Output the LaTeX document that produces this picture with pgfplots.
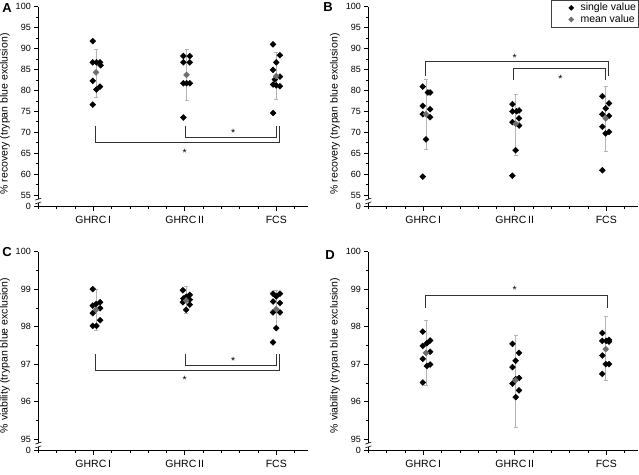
\documentclass[border=0pt]{standalone}
\usepackage{pgfplots}
\pgfplotsset{compat=1.18}
\usepackage{fontspec}
\setmainfont{Liberation Sans}
\definecolor{meangray}{HTML}{6E6E6E}
\definecolor{errgray}{HTML}{B5B5B5}
\definecolor{brk}{HTML}{333333}
\pgfplotsset{
  panel/.style={
    scale only axis, width=270pt,
    xmin=0.4, xmax=3.35,
    axis x line*=bottom, axis y line*=left,
    axis line style={black, line width=0.6pt},
    xtick={1,2,3}, xticklabels={GHRC\,I,GHRC\,II,FCS},
    minor xtick={0.4,0.6,0.8,1.2,1.4,1.6,1.8,2.2,2.4,2.6,2.8,3.2},
    tick align=outside, tick style={black, line width=0.6pt},
    major tick length=4pt, minor tick length=2.5pt,
    /pgf/number format/assume math mode=true,
    yticklabel style={font=\fontsize{9}{10}\selectfont},
    xticklabel style={font=\fontsize{10.5}{12}\selectfont, yshift=-2pt},
    clip=false,
  },
  ylab/.style={every axis y label/.style={at={(rel axis cs:0,#1)}, xshift=-33.3pt, rotate=90, anchor=center, font=\fontsize{10.5}{12}\selectfont}},
  recov/.style={height=200pt, ymin=52.2, ymax=100,
    ytick={52.2,55,60,65,70,75,80,85,90,95,100},
    yticklabels={0,55,60,65,70,75,80,85,90,95,100},
    minor ytick={57.5,62.5,67.5,72.5,77.5,82.5,87.5,92.5,97.5},
    ylabel={\% recovery (trypan blue exclusion)}, ylab=0.4635},
  viab/.style={height=199pt, ymin=94.69, ymax=100,
    ytick={94.69,95,96,97,98,99,100},
    yticklabels={0,95,96,97,98,99,100},
    minor ytick={95.5,96.5,97.5,98.5,99.5},
    ylabel={\% viability (trypan blue exclusion)}, ylab=0.478},
  single/.style={only marks, mark=square*, mark size=2.1pt, mark options={rotate=45, fill=black, draw=black}},
  mean/.style={only marks, mark=square*, mark size=2.1pt, mark options={rotate=45, fill=meangray, draw=meangray}},
  ebar/.style={forget plot, only marks, mark=none, errgray, error bars/.cd, y dir=both, y explicit, error bar style={errgray, line width=0.9pt}, error mark options={rotate=90, errgray, line width=0.9pt, mark size=2pt}},
  bracket/.style={forget plot, brk, line width=1pt, mark=none},
}
\newcommand{\ybreak}{%
  \draw[white, line width=2.5pt] ([yshift=3.8pt]rel axis cs:0,0) -- ([yshift=7.6pt]rel axis cs:0,0);
  \draw[black, line width=0.6pt] ([xshift=-3pt,yshift=2.8pt]rel axis cs:0,0) -- ([xshift=3pt,yshift=4.8pt]rel axis cs:0,0);
  \draw[black, line width=0.6pt] ([xshift=-3pt,yshift=6.6pt]rel axis cs:0,0) -- ([xshift=3pt,yshift=8.6pt]rel axis cs:0,0);
}
\newcommand{\sigstar}[2]{\node[font=\fontsize{10.5}{10}\selectfont, anchor=center, yshift=-2.3pt] at (axis cs:#1,#2) {*};}
\begin{document}
\begin{tikzpicture}
\useasboundingbox (0pt,0pt) rectangle (639pt,-474pt);
% ---------------- A
\begin{axis}[panel, recov, at={(38.3pt,-206.7pt)}, anchor=south west]
\addplot[ebar] coordinates {(1.03,84.3) += (0,5.5) -= (0,6.0) (2.02,83.7) += (0,6.1) -= (0,6.0) (3.0,83.4) += (0,5.6) -= (0,5.5)};
\addplot[single] coordinates {
 (0.995,91.8) (0.995,86.7) (1.035,86.7) (1.075,86.7) (1.08,86.0) (0.995,82.3) (1.035,80.2) (1.075,80.9) (0.995,76.6)
 (1.985,88.2) (2.055,88.2) (1.985,86.7) (2.055,86.7) (1.985,81.7) (2.02,81.7) (2.055,81.7) (1.985,73.5)
 (2.965,91.0) (3.04,88.4) (3.0,86.7) (2.965,84.9) (3.04,83.3) (2.985,82.6) (2.965,81.4) (3.04,81.0) (3.0,81.2) (2.965,74.6)};
\addplot[mean] coordinates {(1.03,84.3) (2.02,83.7) (3.0,83.4)};
\addplot[bracket] coordinates {(1.03,71.4) (1.03,67.5) (3.04,67.5) (3.04,71.4)};
\addplot[bracket] coordinates {(2.01,71.4) (2.01,68.7) (3.0,68.7) (3.0,71.4)};
\sigstar{2.53}{70.4}
\sigstar{2.0}{65.7}
\ybreak
\end{axis}
% ---------------- B
\begin{axis}[panel, recov, at={(368.3pt,-206.7pt)}, anchor=south west,
  legend style={at={(rel axis cs:1,1)}, anchor=north east, yshift=6.7pt, draw=black!75, line width=0.6pt,
    font=\fontsize{10.5}{11}\selectfont, inner xsep=0pt, inner ysep=1pt, row sep=-1.5pt, cells={anchor=west}},
  legend image code/.code={\path (0pt,0pt) (27pt,0pt); \draw[#1, mark size=1.7pt] plot coordinates {(20pt,0pt)};}]
\addplot[ebar] coordinates {(1.03,74.3) += (0,8.2) -= (0,8.5) (2.01,72.0) += (0,7.1) -= (0,7.5) (2.994,73.3) += (0,7.7) -= (0,7.8)};
\addplot[single] coordinates {
 (0.995,80.9) (1.05,79.5) (1.075,79.5) (0.995,76.3) (1.075,75.5) (0.995,74.3) (1.075,73.6) (1.03,68.3) (0.995,59.4)
 (1.975,76.7) (1.975,75.0) (2.047,75.2) (2.047,73.3) (1.975,72.4) (2.047,71.6) (2.01,65.7) (1.975,59.6) (2.02,75.0)
 (2.957,78.6) (3.03,76.9) (2.994,75.7) (2.957,74.3) (3.03,73.9) (2.957,71.3) (3.03,70.1) (2.994,69.7) (2.957,60.9)};
\addlegendentry{single value}
\addplot[mean] coordinates {(1.03,74.3) (2.01,72.0) (2.994,73.3)};
\addlegendentry{mean value}
\addplot[bracket] coordinates {(1.03,83.4) (1.03,86.8) (3.02,86.8) (3.02,83.4)};
\addplot[bracket] coordinates {(1.99,82.5) (1.99,85.3) (2.99,85.3) (2.99,82.5)};
\sigstar{2.0}{88.2}
\sigstar{2.5}{83.4}
\ybreak
\end{axis}
% ---------------- C
\begin{axis}[panel, viab, at={(38.3pt,-450.7pt)}, anchor=south west]
\addplot[ebar] coordinates {(1.03,98.45) += (0,0.54) -= (0,0.55) (2.015,98.7) += (0,0.36) -= (0,0.35) (3.0,98.47) += (0,0.5) -= (0,0.5)};
\addplot[single] coordinates {
 (0.995,99.0) (1.075,98.65) (0.995,98.56) (1.075,98.49) (0.995,98.36) (1.075,98.17) (0.995,98.02) (1.035,98.02) (1.03,98.6)
 (1.98,98.97) (2.055,98.85) (2.015,98.8) (2.055,98.72) (1.98,98.65) (2.055,98.59) (1.985,98.75) (2.015,98.45)
 (2.965,98.88) (3.04,98.88) (3.0,98.81) (2.965,98.67) (3.04,98.63) (2.965,98.38) (3.04,98.38) (3.0,97.96) (2.965,97.58)};
\addplot[mean] coordinates {(1.03,98.45) (2.015,98.7) (3.0,98.47)};
\addplot[bracket] coordinates {(1.03,97.27) (1.03,96.84) (3.04,96.84) (3.04,97.27)};
\addplot[bracket] coordinates {(2.01,97.27) (2.01,96.96) (3.0,96.96) (3.0,97.27)};
\sigstar{2.53}{97.15}
\sigstar{2.0}{96.65}
\ybreak
\end{axis}
% ---------------- D
\begin{axis}[panel, viab, at={(368.3pt,-450.7pt)}, anchor=south west]
\addplot[ebar] coordinates {(1.03,97.3) += (0,0.87) -= (0,0.87) (2.01,96.57) += (0,1.19) -= (0,1.25) (2.994,97.4) += (0,0.86) -= (0,0.83)};
\addplot[single] coordinates {
 (0.995,97.87) (1.075,97.63) (1.04,97.56) (0.995,97.49) (1.075,97.33) (0.995,97.14) (1.075,96.99) (1.04,96.95) (0.995,96.51)
 (1.975,97.54) (2.047,97.30) (2.01,97.09) (1.975,96.92) (2.047,96.63) (1.975,96.48) (2.047,96.30) (2.01,96.12) (2.01,96.6)
 (2.957,97.83) (2.957,97.62) (3.03,97.65) (3.03,97.60) (2.957,97.23) (2.994,97.0) (3.03,97.0) (2.957,96.74) (3.0,97.62)};
\addplot[mean] coordinates {(1.03,97.3) (2.01,96.57) (2.994,97.4)};
\addplot[bracket] coordinates {(1.03,98.51) (1.03,98.83) (3.01,98.83) (3.01,98.51)};
\sigstar{2.0}{99.05}
\ybreak
\end{axis}
% panel letters
\node[font=\bfseries\fontsize{13}{13}\selectfont] at (7pt,-8pt) {A};
\node[font=\bfseries\fontsize{13}{13}\selectfont] at (328pt,-7pt) {B};
\node[font=\bfseries\fontsize{13}{13}\selectfont] at (7pt,-252pt) {C};
\node[font=\bfseries\fontsize{13}{13}\selectfont] at (330pt,-255pt) {D};
\end{tikzpicture}
\end{document}
